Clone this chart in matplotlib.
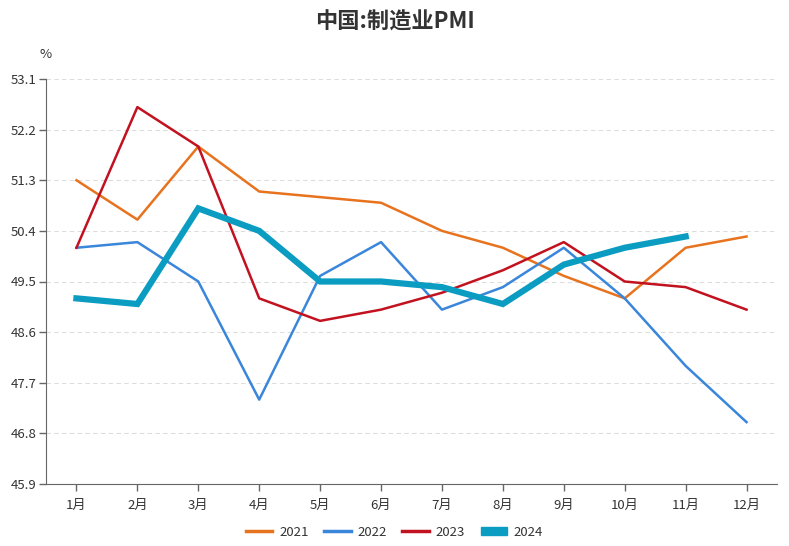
import matplotlib
matplotlib.use("Agg")
import matplotlib.pyplot as plt
from matplotlib.lines import Line2D
from matplotlib.patches import Rectangle

plt.rcParams['font.family'] = ['Noto Sans CJK SC', 'DejaVu Sans']

months = ["1月", "2月", "3月", "4月", "5月", "6月", "7月", "8月", "9月", "10月", "11月", "12月"]
pmi_2021 = [51.3, 50.6, 51.9, 51.1, 51.0, 50.9, 50.4, 50.1, 49.6, 49.2, 50.1, 50.3]
pmi_2022 = [50.1, 50.2, 49.5, 47.4, 49.6, 50.2, 49.0, 49.4, 50.1, 49.2, 48.0, 47.0]
pmi_2023 = [50.1, 52.6, 51.9, 49.2, 48.8, 49.0, 49.3, 49.7, 50.2, 49.5, 49.4, 49.0]
pmi_2024 = [49.2, 49.1, 50.8, 50.4, 49.5, 49.5, 49.4, 49.1, 49.8, 50.1, 50.3]
yticks = [45.9, 46.8, 47.7, 48.6, 49.5, 50.4, 51.3, 52.2, 53.1]

fig = plt.figure(figsize=(7.89, 5.46), dpi=100)
W, H = 789, 546
ax = fig.add_axes([46 / W, 1 - 484 / H, (777 - 46) / W, (484 - 79) / H])

x = list(range(len(months)))
ax.plot(x, pmi_2021, color="#E8731F", lw=1.8, label="2021")
ax.plot(x, pmi_2022, color="#3A86DA", lw=1.8, label="2022")
ax.plot(x, pmi_2023, color="#C2121F", lw=1.8, label="2023")
ax.plot(x[:len(pmi_2024)], pmi_2024, color="#0B9CC2", lw=4.5, label="2024", solid_joinstyle="miter")

ax.set_xlim(-0.5, 11.5)
ax.set_ylim(45.9, 53.1)
ax.set_yticks(yticks)
ax.set_yticklabels([f"{v:.1f}" for v in yticks], fontsize=9.5, color="#333333")
ax.set_xticks(x)
ax.set_xticklabels(months, fontsize=9.5, color="#333333")
ax.grid(axis="y", color="#DDDDDD", linestyle=(0, (4, 3)), lw=0.8)
ax.set_axisbelow(True)
for s in ["top", "right"]:
    ax.spines[s].set_visible(False)
ax.spines["left"].set_color("#666666")
ax.spines["bottom"].set_color("#666666")
ax.tick_params(axis="both", color="#666666", length=5, width=1)
ax.tick_params(axis="x", pad=6)
ax.tick_params(axis="y", pad=2)

fig.text(46 / W, 1 - 55 / H, "%", fontsize=9.5, color="#333333", ha="center", va="center")
fig.text(0.5, 1 - 22 / H, "中国:制造业PMI", fontsize=16, fontweight="bold", color="#333333", ha="center", va="center")

handles = [
    Line2D([], [], color="#E8731F", lw=2.5),
    Line2D([], [], color="#3A86DA", lw=2.5),
    Line2D([], [], color="#C2121F", lw=2.5),
    Rectangle((0, 0), 1, 1, color="#0B9CC2"),
]
fig.legend(handles, ["2021", "2022", "2023", "2024"], loc="center", bbox_to_anchor=(0.5, 1 - 532 / H),
           ncol=4, frameon=False, fontsize=9.5, handlelength=2.0, handleheight=0.6, columnspacing=1.2,
           handletextpad=0.5, labelcolor="#333333")

fig.savefig("out.png", dpi=100)
